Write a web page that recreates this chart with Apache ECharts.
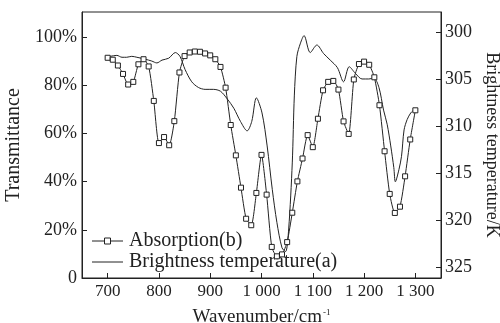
<!DOCTYPE html>
<html>
<head>
<meta charset="utf-8">
<script src="https://cdn.jsdelivr.net/npm/echarts@6/dist/echarts.min.js"></script>
<style>
  html, body { margin: 0; padding: 0; background: #fff; }
  #chart { width: 500px; height: 323px; }
</style>
</head>
<body>
<div id="chart"></div>
<script>
// absorption (b), transmittance %
const absWn = [700, 710, 720, 730, 740, 750, 760, 770, 780, 790, 800, 810, 820, 830, 840, 850, 860, 870, 880, 890,
  900, 910, 920, 930, 940, 950, 960, 970, 980, 990, 1000, 1010, 1020, 1030, 1040, 1050, 1060, 1070, 1080, 1090,
  1100, 1110, 1120, 1130, 1140, 1150, 1160, 1170, 1180, 1190, 1200, 1210, 1220, 1230, 1240, 1250, 1260, 1270, 1280, 1290, 1300]
const absVal = [91.4, 90.6, 88.2, 84.7, 80.3, 81.4, 88.7, 90.8, 87.8, 73.5, 56.0, 58.5, 55.1, 65.1, 85.3, 92.1, 93.6, 94.0, 93.9, 93.2,
  92.4, 90.8, 87.6, 79.0, 63.5, 50.9, 37.5, 24.6, 21.9, 35.3, 51.1, 34.6, 12.9, 9.0, 9.8, 14.9, 27.1, 40.1, 49.6, 59.3,
  54.3, 66.1, 77.9, 81.4, 81.8, 78.2, 65.0, 59.8, 82.4, 88.8, 89.8, 88.5, 83.3, 71.7, 52.6, 34.9, 27.0, 29.6, 42.2, 57.5, 69.6]

// brightness temperature (a), K
const btWn = [695, 705, 718, 728, 737, 747, 757, 773, 786, 796, 806, 819, 832, 841, 851, 864, 877, 890, 906, 920,
  933, 946, 959, 972, 981, 990, 1001, 1011, 1021, 1030, 1040, 1047, 1053, 1060, 1064, 1069, 1076, 1083, 1095, 1108,
  1121, 1134, 1148, 1160, 1171, 1183, 1196, 1209, 1219, 1229, 1238, 1245, 1252, 1258, 1261, 1268, 1273, 1278, 1284, 1291, 1297]
const btVal = [302.7, 302.6, 302.5, 302.7, 302.7, 302.6, 302.7, 302.9, 303.1, 303.3, 303.0, 302.8, 302.2, 302.6, 304.0, 305.3, 305.9, 306.1, 306.1, 306.3,
  307.1, 308.1, 309.5, 310.5, 309.5, 307.0, 308.6, 312.1, 316.7, 320.2, 322.9, 323.3, 320.9, 313.9, 306.8, 302.6, 301.2, 300.4, 302.2, 301.4,
  302.3, 303.0, 303.8, 305.3, 303.7, 304.4, 305.0, 305.0, 304.9, 305.9, 308.3, 309.8, 312.1, 314.4, 315.9, 314.6, 313.2, 310.4, 309.3, 308.6, 308.3]

const seriesNames = ['Absorption(b)', 'Brightness temperature(a)']
const xTicks = [700, 800, 900, 1000, 1100, 1200, 1300]
const leftTicks = [0, 20, 40, 60, 80, 100]
const rightTicks = [300, 305, 310, 315, 320, 325]

const font = 'Liberation Serif'
const ink = '#222'

const absData = absWn.map((w, i) => [w, absVal[i]])
const btData = btWn.map((w, i) => [w, btVal[i]])

const chart = echarts.init(document.getElementById('chart'))

// legend drawn by hand (line + square, plain line) inside the plot, bottom left
const legendRow = (y, name, withBox) => {
  const els = [
    { type: 'line', shape: { x1: 92, y1: y, x2: 123, y2: y }, style: { stroke: ink, lineWidth: 1 } },
    {
      type: 'text', x: 129, y: y,
      style: { text: name, fontFamily: font, fontSize: 20, fill: ink, verticalAlign: 'middle' }
    }
  ]
  if (withBox) {
    els.push({ type: 'rect', shape: { x: 104.5, y: y - 3, width: 6, height: 6 }, style: { fill: '#fff', stroke: ink, lineWidth: 1 } })
  }
  return els
}

chart.setOption({
  animation: false,
  grid: {
    left: 82, right: 59, top: 12, bottom: 45,
    outerBoundsMode: 'none',
    show: true, borderColor: ink, borderWidth: 1
  },
  graphic: [
    ...legendRow(241, seriesNames[0], true),
    ...legendRow(262, seriesNames[1], false)
  ],
  xAxis: {
    type: 'value',
    min: 650,
    max: 1350,
    name: 'Wavenumber/cm{sup|-1}',
    nameLocation: 'middle',
    nameGap: 30,
    nameTextStyle: {
      fontFamily: font, fontSize: 19, color: ink,
      rich: { sup: { fontFamily: font, fontSize: 9, color: ink, verticalAlign: 'top', padding: [0, 0, 10, 1] } }
    },
    axisLine: { lineStyle: { color: ink } },
    axisTick: { inside: true, length: 5, customValues: xTicks, lineStyle: { color: ink } },
    axisLabel: {
      customValues: xTicks,
      margin: 5,
      fontFamily: font, fontSize: 17, color: ink,
      formatter: v => v >= 1000 ? Math.floor(v / 1000) + ' ' + String(v % 1000).padStart(3, '0') : String(v)
    },
    splitLine: { show: false }
  },
  yAxis: [
    {
      type: 'value',
      min: 0,
      max: 110.4,
      name: 'Transmittance',
      nameLocation: 'middle',
      nameGap: 54,
      nameTextStyle: { fontFamily: font, fontSize: 20, color: ink },
      axisLine: { show: true, lineStyle: { color: ink } },
      axisTick: { show: true, inside: true, length: 5, customValues: leftTicks, lineStyle: { color: ink } },
      axisLabel: {
        customValues: leftTicks,
        margin: 5,
        fontFamily: font, fontSize: 18, color: ink,
        formatter: v => v === 0 ? '0' : v + '%'
      },
      splitLine: { show: false }
    },
    {
      type: 'value',
      position: 'right',
      inverse: true,
      min: 297.9,
      max: 326.1,
      name: 'Brightness temperature/K',
      nameLocation: 'middle',
      nameRotate: -90,
      nameGap: 39,
      nameTextStyle: { fontFamily: font, fontSize: 18, color: ink },
      axisLine: { show: true, lineStyle: { color: ink } },
      axisTick: { show: true, inside: true, length: 5, customValues: rightTicks, lineStyle: { color: ink } },
      axisLabel: {
        customValues: rightTicks,
        margin: 4,
        fontFamily: font, fontSize: 18, color: ink
      },
      splitLine: { show: false }
    }
  ],
  series: [
    {
      name: seriesNames[0],
      type: 'line',
      yAxisIndex: 0,
      smooth: 0.2,
      symbol: 'none',
      lineStyle: { color: ink, width: 1 },
      data: absData
    },
    {
      // open square markers on the absorption curve
      name: seriesNames[0],
      type: 'scatter',
      yAxisIndex: 0,
      symbol: 'rect',
      symbolSize: 5,
      itemStyle: { color: '#fff', borderColor: ink, borderWidth: 1, opacity: 1 },
      z: 3,
      data: absData
    },
    {
      name: seriesNames[1],
      type: 'line',
      yAxisIndex: 1,
      smooth: 0.3,
      symbol: 'none',
      lineStyle: { color: ink, width: 1 },
      data: btData
    }
  ]
})
</script>
</body>
</html>
